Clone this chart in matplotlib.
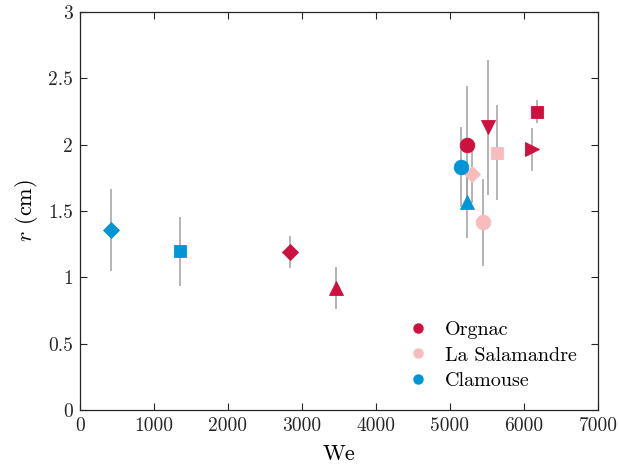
import matplotlib
matplotlib.use('Agg')
import matplotlib.pyplot as plt
from matplotlib.lines import Line2D

plt.rcParams['font.family'] = 'serif'
plt.rcParams['font.serif'] = ['cmr10']
plt.rcParams['mathtext.fontset'] = 'cm'
plt.rcParams['axes.formatter.use_mathtext'] = True

# Orgnac
org_we = [2838, 3463, 5233, 5521, 6107, 6170]
org_r = [1.19, 0.92, 2.00, 2.13, 1.965, 2.25]
org_err = [0.12, 0.16, 0.44, 0.51, 0.16, 0.085]
org_mk = ['D', '^', 'o', 'v', '>', 's']

# La Salamandre
sal_we = [5300, 5634, 5445]
sal_r = [1.78, 1.94, 1.415]
sal_err = [0.22, 0.36, 0.33]
sal_mk = ['D', 's', 'o']

# Clamouse
cla_we = [419, 1351, 5152, 5237]
cla_r = [1.355, 1.196, 1.83, 1.566]
cla_err = [0.31, 0.26, 0.30, 0.27]
cla_mk = ['D', 's', 'o', '^']

sites = ['Orgnac', 'La Salamandre', 'Clamouse']
colors = ['#cf0f3d', '#f9bcbd', '#0096d6']

xticks = [0, 1000, 2000, 3000, 4000, 5000, 6000, 7000]
yticks = [0, 0.5, 1, 1.5, 2, 2.5, 3]
ylabels = ['0', '0.5', '1', '1.5', '2', '2.5', '3']

fig = plt.figure(figsize=(6.19, 4.71), dpi=100)
ax = fig.add_axes([0.129, 0.1295, 0.837, 0.845])

groups = [(org_we, org_r, org_err, org_mk),
          (sal_we, sal_r, sal_err, sal_mk),
          (cla_we, cla_r, cla_err, cla_mk)]

# error bars first, markers on top
for we, r, err, mk in groups:
    ax.errorbar(we, r, yerr=err, fmt='none', ecolor='#a0a0a0', elinewidth=1.1, capsize=0, zorder=1)

sizes = {'o': 10.5, 's': 8.5, 'D': 8.5, '^': 10.5, 'v': 10.5, '>': 10.5}
for (we, r, err, mk), c in zip(groups, colors):
    for xi, yi, m in zip(we, r, mk):
        ax.plot(xi, yi, marker=m, ls='none', ms=sizes[m], mfc=c, mec=c, mew=0.6, zorder=3)

handles = [Line2D([], [], marker='o', ls='none', ms=6.5, mfc=c, mec=c) for c in colors]
leg = ax.legend(handles, sites, loc='lower right', bbox_to_anchor=(0.994, 0.004), frameon=False,
                fontsize=14.5, handletextpad=0.85, labelspacing=0.38, handlelength=1.0)

ax.set_xlim(0, 7000)
ax.set_ylim(0, 3)
ax.set_xticks(xticks)
ax.set_xticklabels([str(t) for t in xticks])
ax.set_yticks(yticks)
ax.set_yticklabels(ylabels)
ax.tick_params(direction='in', length=5, width=0.8, top=True, right=True, labelsize=14, colors='#262626', pad=5)
for s in ax.spines.values():
    s.set_linewidth(0.9)
    s.set_color('#262626')
ax.set_xlabel('We', fontsize=16, labelpad=7)
ax.set_ylabel('$r$ (cm)', fontsize=16, labelpad=6)

fig.savefig('out.png', dpi=100)
